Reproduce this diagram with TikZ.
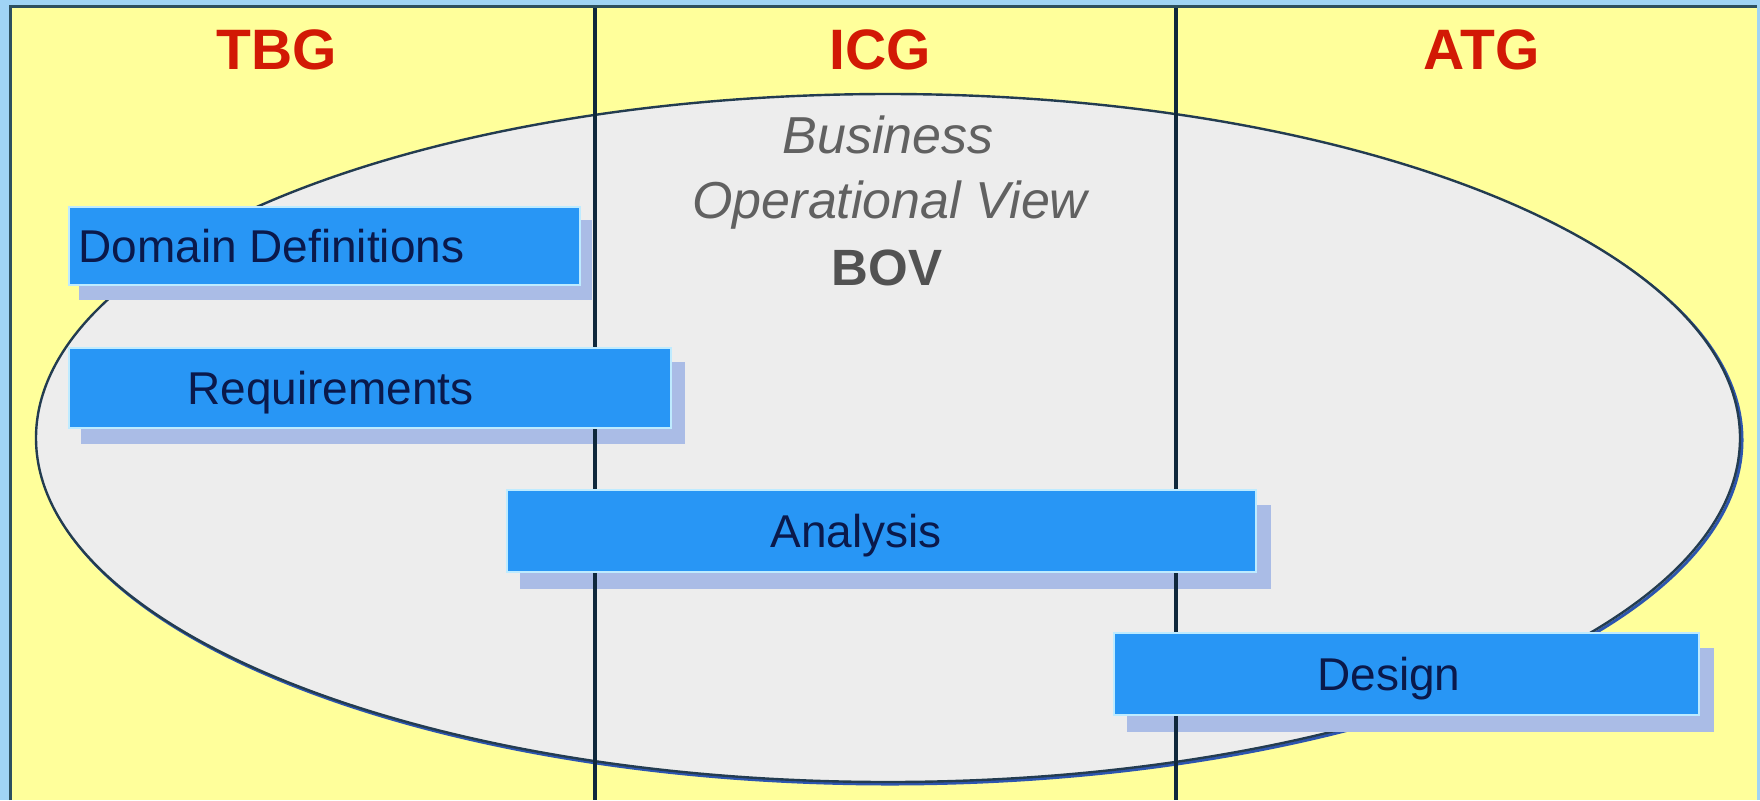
\documentclass[tikz,border=0pt]{standalone}
\usepackage{fontspec}
\setmainfont{Liberation Sans}
\usepackage{tikz}

\definecolor{framebg}{RGB}{160,212,245}
\definecolor{frameline}{RGB}{45,80,95}
\definecolor{laneyellow}{RGB}{255,255,155}
\definecolor{bovgrey}{RGB}{237,237,237}
\definecolor{bovline}{RGB}{35,60,80}
\definecolor{bovshade}{RGB}{45,85,175}
\definecolor{barblue}{RGB}{40,150,245}
\definecolor{barrim}{RGB}{190,235,255}
\definecolor{barshade}{RGB}{170,188,230}
\definecolor{bartext}{RGB}{10,25,75}
\definecolor{groupred}{RGB}{210,25,5}
\definecolor{lanedivider}{RGB}{15,40,60}

\pgfdeclarelayer{front}
\pgfsetlayers{main,front}

\tikzset{
  bar/.style={draw=barrim, line width=1pt, fill=barblue, minimum height=40pt, inner sep=0pt},
  bartag/.style={anchor=base west, inner sep=0pt, text=bartext, font=\fontsize{23}{27}\selectfont},
  group/.style={anchor=base, inner sep=0pt, text=groupred, font=\fontsize{28.5}{32}\selectfont\bfseries},
  bovtext/.style={anchor=base, inner sep=0pt, text=black!62, font=\fontsize{26}{30}\selectfont\itshape},
  barshadow/.style={fill=barshade},
}

\begin{document}
\begin{tikzpicture}[x=0.5pt, y=-0.5pt]
  % frame and lanes
  \fill[framebg] (0,0) rectangle (1760,800);
  \useasboundingbox (0,0) rectangle (1760,800);
  \fill[laneyellow] (11,8) rectangle (1757,800);
  \draw[frameline, line width=1.5pt] (10,800) -- (10,6.5) -- (1757,6.5);

  % the BOV ellipse
  \draw[bovshade, line width=1.5pt] (890,440) ellipse [x radius=426pt, y radius=172pt];
  \draw[bovline, fill=bovgrey, line width=1.2pt] (888,438) ellipse [x radius=426pt, y radius=172pt];

  % activity bars
  \begin{pgfonlayer}{front}
  \node[bar, minimum width=255.5pt, minimum height=39pt] (dom) at (324.5,246) {};
  \node[bar, minimum width=301pt] (req) at (370,388) {};
  \node[bar, minimum width=374.5pt, minimum height=41pt] (ana) at (881.5,531) {};
  \node[bar, minimum width=292.5pt, minimum height=41pt] (des) at (1406.5,674) {};

  \node[bartag] (domtag) at (78,262) {Domain Definitions};
  \node[bartag] (reqtag) at (187,404) {Requirements};
  \node[bartag] (anatag) at (770,547) {Analysis};
  \node[bartag] (destag) at (1317,690) {Design};
  \end{pgfonlayer}

  \fill[barshadow] ([xshift=5.5pt,yshift=-7pt]dom.south west) rectangle ([xshift=5.5pt,yshift=-7pt]dom.north east);
  \fill[barshadow] ([xshift=6.5pt,yshift=-7.5pt]req.south west) rectangle ([xshift=6.5pt,yshift=-7.5pt]req.north east);
  \fill[barshadow] ([xshift=7pt,yshift=-8pt]ana.south west) rectangle ([xshift=7pt,yshift=-8pt]ana.north east);
  \fill[barshadow] ([xshift=7pt,yshift=-8pt]des.south west) rectangle ([xshift=7pt,yshift=-8pt]des.north east);

  % lane dividers
  \draw[lanedivider, line width=2pt] (595,8) -- (595,800);
  \draw[lanedivider, line width=2pt] (1176,8) -- (1176,800);

  % lane headers
  \node[group] (tbg) at (277,69) {TBG};
  \node[group] (icg) at (880,69) {ICG};
  \node[group] (atg) at (1482,69) {ATG};

  \node[bovtext] (bovline1) at (888,153) {Business};
  \node[bovtext] (bovline2) at (890,218) {Operational View};
  \node[bovtext, text=black!68, font=\fontsize{25.5}{30}\selectfont\bfseries] (bov) at (887,285) {BOV};
\end{tikzpicture}
\end{document}
